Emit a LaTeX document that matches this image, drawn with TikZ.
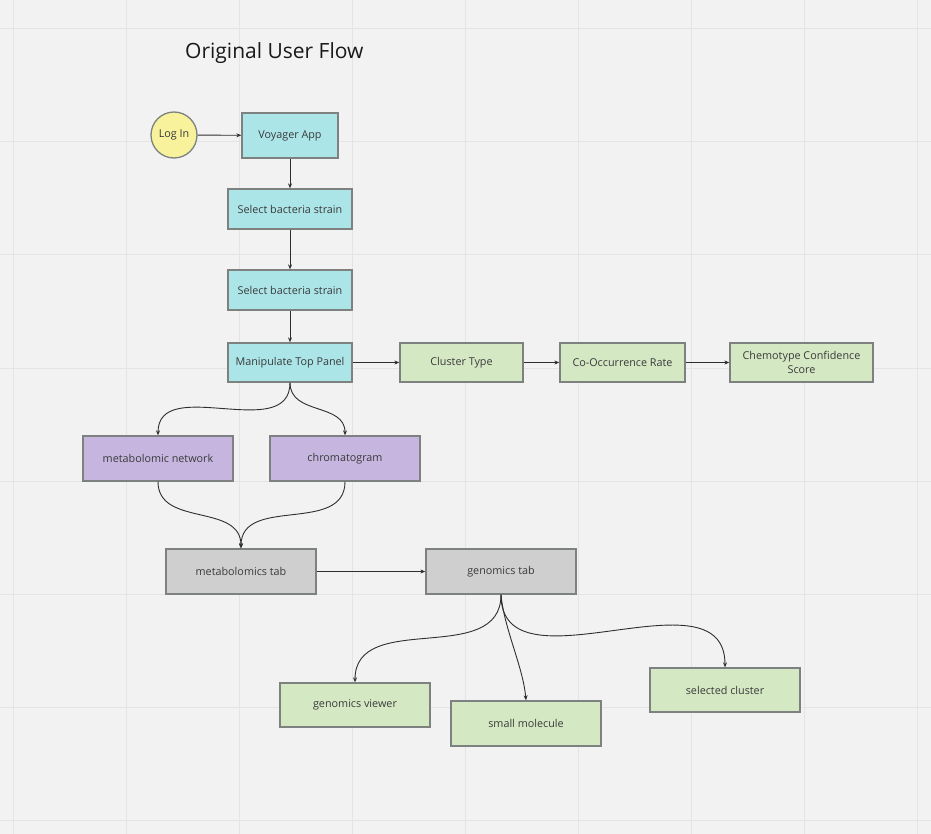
\documentclass[tikz,border=0pt]{standalone}
\usepackage{fontspec}
\setmainfont{Open Sans}
\usetikzlibrary{arrows.meta}
\definecolor{bg}{HTML}{F2F2F2}
\definecolor{gridc}{HTML}{E4E4E4}
\definecolor{cyanf}{HTML}{ACE5E8}
\definecolor{yellf}{HTML}{F7F29B}
\definecolor{greenf}{HTML}{D5E8C4}
\definecolor{purpf}{HTML}{C5B5DF}
\definecolor{grayf}{HTML}{CFCFCF}
\definecolor{bordc}{HTML}{7D8280}
\definecolor{txtc}{HTML}{3A3A3A}
\definecolor{linec}{HTML}{2E2E2E}
\tikzset{
  box/.style={draw=bordc, line width=1.3pt, rectangle, inner sep=0pt, text=txtc,
    font=\fontsize{10.8}{14}\selectfont, align=center},
  conn/.style={draw=linec, line width=0.9pt, -{Stealth[length=5pt,width=4pt]}},
}
\begin{document}
\begin{tikzpicture}[x=1pt,y=-1pt]
\fill[bg] (0,0) rectangle (931,834);
\useasboundingbox (0,0) rectangle (931,834);
\foreach \gx in {13,126,239,352,465,578,691,804,917} \draw[gridc, line width=1pt] (\gx,0) -- (\gx,834);
\foreach \gy in {29,142,255,368,481,594,707,820} \draw[gridc, line width=1pt] (0,\gy) -- (931,\gy);

\node[anchor=west, inner sep=0pt, text=black!90, font=\fontsize{21}{24}\selectfont] (title) at (185,53) {Original User Flow};

\node[box, circle, fill=yellf, minimum size=46pt] (login) at (174,135) {Log In};
\node[box, fill=cyanf, minimum width=96pt, minimum height=45pt] (voy) at (290,135.5) {Voyager App};
\node[box, fill=cyanf, minimum width=124pt, minimum height=40pt] (sel1) at (290,209) {Select bacteria strain};
\node[box, fill=cyanf, minimum width=124pt, minimum height=40pt] (sel2) at (290,290) {Select bacteria strain};
\node[box, fill=cyanf, minimum width=124pt, minimum height=39pt] (manip) at (290,362.5) {Manipulate Top Panel};
\node[box, fill=greenf, minimum width=123pt, minimum height=39pt] (clust) at (461.5,362.5) {Cluster Type};
\node[box, fill=greenf, minimum width=125pt, minimum height=39pt] (cooc) at (622.5,362.5) {Co-Occurrence Rate};
\node[box, fill=greenf, minimum width=143pt, minimum height=39pt] (chemo) at (801.5,362.5) {Chemotype Confidence\\Score};
\node[box, fill=purpf, minimum width=150pt, minimum height=45pt] (metnet) at (158,458.5) {metabolomic network};
\node[box, fill=purpf, minimum width=150pt, minimum height=45pt] (chrom) at (345,458.5) {chromatogram};
\node[box, fill=grayf, minimum width=150pt, minimum height=45pt] (mtab) at (241,571.5) {metabolomics tab};
\node[box, fill=grayf, minimum width=150pt, minimum height=45pt] (gtab) at (501,571.5) {genomics tab};
\node[box, fill=greenf, minimum width=150pt, minimum height=44pt] (gview) at (355,705) {genomics viewer};
\node[box, fill=greenf, minimum width=150pt, minimum height=45pt] (smol) at (526,723.5) {small molecule};
\node[box, fill=greenf, minimum width=150pt, minimum height=44pt] (scl) at (725,690) {selected cluster};

\draw[conn] (login) -- (voy);
\draw[conn] (voy) -- (sel1);
\draw[conn] (sel1) -- (sel2);
\draw[conn] (sel2) -- (manip);
\draw[conn] (manip) -- (clust);
\draw[conn] (clust) -- (cooc);
\draw[conn] (cooc) -- (chemo);
\draw[conn] (manip.south) to[out=-90, in=90, looseness=1.1] (metnet.north);
\draw[conn] (manip.south) to[out=-90, in=90, looseness=1.1] (chrom.north);
\draw[conn] (metnet.south) to[out=-90, in=90, looseness=1.1] (mtab.north);
\draw[conn] (chrom.south) to[out=-90, in=90, looseness=1.1] (mtab.north);
\draw[conn] (mtab) -- (gtab);
\draw[conn] (gtab.south) to[out=-90, in=90, looseness=1.1] (gview.north);
\draw[conn] (gtab.south) to[out=-85, in=95, looseness=0.8] (smol.north);
\draw[conn] (gtab.south) to[out=-90, in=90, looseness=1.1] (scl.north);
\end{tikzpicture}
\end{document}
